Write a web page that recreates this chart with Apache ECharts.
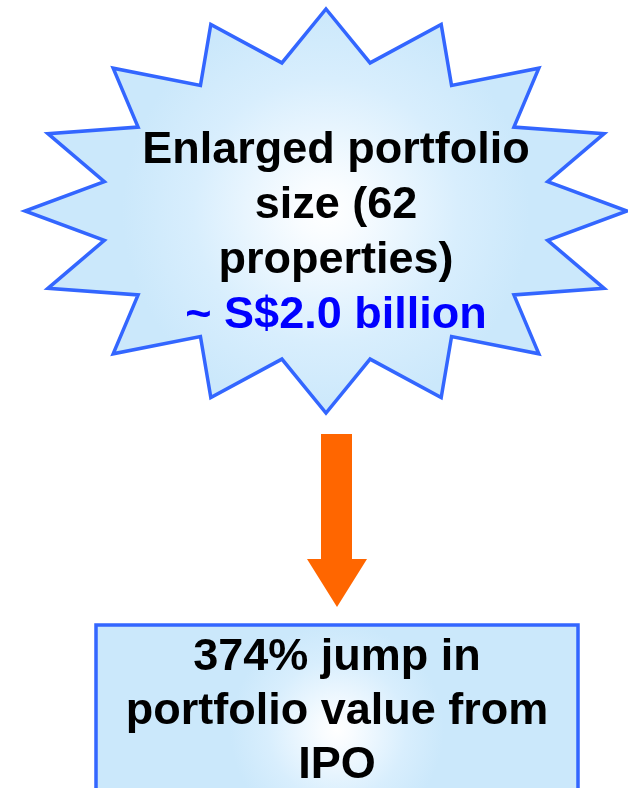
<!DOCTYPE html>
<html>
<head>
<meta charset="utf-8">
<script src="https://cdn.jsdelivr.net/npm/echarts@6/dist/echarts.min.js"></script>
<style>
  html, body { margin: 0; padding: 0; background: #fff; }
  #chart { width: 628px; height: 788px; }
</style>
</head>
<body>
<div id="chart"></div>
<script>
// text content
const starLines = ["Enlarged portfolio", "size (62", "properties)", "~ S$2.0 billion"];
const starLineColors = ["#000000", "#000000", "#000000", "#0000FF"];
const boxLines = ["374% jump in", "portfolio value from", "IPO"];

// 16-point star shape
const starPoints = 16;
const starCenter = [326, 211];
const starOuter = [301, 202];
const starInner = [226, 151];

const blueLine = "#3366FF";
const arrowColor = "#FF6600";

function starShape() {
  const pts = [];
  for (let i = 0; i < starPoints * 2; i++) {
    const a = Math.PI / 2 - i * Math.PI / starPoints;
    const r = i % 2 === 0 ? starOuter : starInner;
    pts.push([starCenter[0] + r[0] * Math.cos(a), starCenter[1] - r[1] * Math.sin(a)]);
  }
  return pts;
}

function glow() {
  return {
    type: "radial", x: 0.5, y: 0.5, r: 0.5,
    colorStops: [
      { offset: 0, color: "#FFFFFF" },
      { offset: 0.15, color: "#F8FCFF" },
      { offset: 0.65, color: "#D8EEFD" },
      { offset: 1, color: "#CBE8FB" }
    ]
  };
}

const chart = echarts.init(document.getElementById("chart"));
const elements = [];

elements.push({
  type: "polygon",
  shape: { points: starShape() },
  style: { fill: glow(), stroke: blueLine, lineWidth: 3.5, lineJoin: "miter" }
});

starLines.forEach((t, i) => {
  elements.push({
    type: "text",
    x: 336, y: 151 + i * 55,
    style: {
      text: t, fill: starLineColors[i],
      font: "bold 45px 'Liberation Sans', Arial, sans-serif",
      align: "center", verticalAlign: "middle"
    }
  });
});

// arrow
elements.push({
  type: "polygon",
  shape: { points: [[321, 434], [352, 434], [352, 559], [367, 559], [337, 607], [307, 559], [321, 559]] },
  style: { fill: arrowColor }
});

// box
elements.push({
  type: "rect",
  shape: { x: 96, y: 625, width: 482, height: 210 },
  style: { fill: glow(), stroke: blueLine, lineWidth: 3.5 }
});

boxLines.forEach((t, i) => {
  elements.push({
    type: "text",
    x: 337, y: 658 + i * 54,
    style: {
      text: t, fill: "#000000",
      font: "bold 45px 'Liberation Sans', Arial, sans-serif",
      align: "center", verticalAlign: "middle"
    }
  });
});

chart.setOption({
  animation: false,
  graphic: { elements: elements }
});
</script>
</body>
</html>
